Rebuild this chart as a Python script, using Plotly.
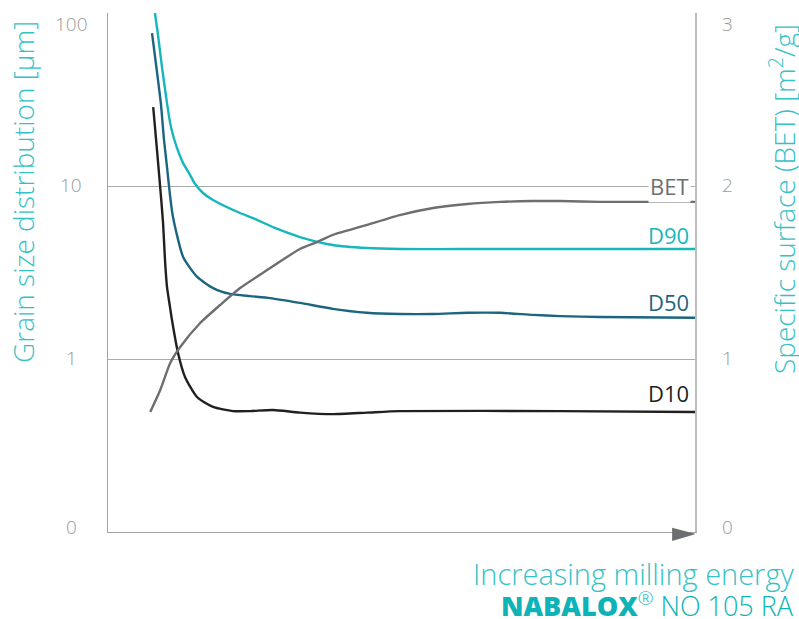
import math
import plotly.graph_objects as go

# ---- data (x: milling energy, arbitrary units 0-100) ----
d90_x = [8.0, 8.52, 9.2, 10.05, 10.56, 11.07, 11.75, 12.78, 13.97, 14.82, 16.18, 17.89,
         22.49, 24.70, 28.45, 32.71, 38.3, 44.1, 49.7, 60.0, 100.0]
d90_y = [100, 74.6, 48.7, 30.2, 23.4, 19.7, 16.6, 13.6, 11.6, 10.3, 9.11, 8.30,
         6.98, 6.53, 5.72, 5.07, 4.56, 4.38, 4.32, 4.32, 4.32]

d50_x = [7.5, 8.52, 9.03, 9.54, 10.05, 10.56, 11.07, 12.8, 15.2, 17.9, 20.8, 24.2, 27.6,
         32.7, 38.3, 44.1, 49.7, 55.4, 61.2, 66.8, 72.4, 77.0, 83.8, 100.0]
d50_y = [76.6, 41.0, 29.4, 18.5, 12.9, 8.87, 6.62, 3.89, 2.98, 2.57, 2.38, 2.31, 2.25,
         2.11, 1.95, 1.85, 1.82, 1.82, 1.85, 1.85, 1.80, 1.77, 1.75, 1.73]

d10_x = [7.7, 8.35, 8.86, 9.37, 9.71, 10.05, 10.56, 10.90, 11.93, 13.12, 15.16, 17.89,
         21.29, 24.2, 28.1, 32.7, 38.3, 44.1, 49.7, 77.0, 100.0]
d10_y = [28.6, 16.1, 10.1, 6.19, 3.73, 2.61, 2.00, 1.68, 1.083, 0.787, 0.603, 0.528,
         0.500, 0.500, 0.507, 0.490, 0.480, 0.490, 0.500, 0.500, 0.494]

bet_x = [7.2, 8.9, 10.6, 12.3, 15.7, 19.1, 22.5, 27.1, 32.7, 35.6, 38.3, 44.1, 49.7,
         55.4, 61.2, 66.8, 72.4, 77.0, 83.8, 100.0]
bet_y = [0.694, 0.821, 0.977, 1.069, 1.208, 1.312, 1.410, 1.514, 1.636, 1.676, 1.717,
         1.775, 1.832, 1.873, 1.896, 1.908, 1.913, 1.913, 1.908, 1.908]

left_tick_vals = [0.1, 1, 10, 100]
left_tick_text = ["0", "1", "10", "100"]
right_tick_vals = [0, 1, 2, 3]
right_tick_text = ["0", "1", "2", "3"]

series_labels = ["BET", "D90", "D50", "D10"]

# ---- styles ----
C_D90 = "#16B6BB"
C_D50 = "#1C6581"
C_D10 = "#231F20"
C_BET = "#6D6E71"
C_TITLE = "#35C2C6"
C_TICK = "#9A9A9A"
FONT = "Open Sans"

fig = go.Figure()
line_w = 2.4
sm = 0.6
fig.add_trace(go.Scatter(x=bet_x, y=bet_y, yaxis="y2", mode="lines",
                         line=dict(color=C_BET, width=line_w, shape="spline", smoothing=sm)))
fig.add_trace(go.Scatter(x=d10_x, y=d10_y, mode="lines",
                         line=dict(color=C_D10, width=line_w, shape="spline", smoothing=sm)))
fig.add_trace(go.Scatter(x=d50_x, y=d50_y, mode="lines",
                         line=dict(color=C_D50, width=line_w, shape="spline", smoothing=sm)))
fig.add_trace(go.Scatter(x=d90_x, y=d90_y, mode="lines",
                         line=dict(color=C_D90, width=line_w, shape="spline", smoothing=sm)))

fig.update_layout(
    width=799, height=619, autosize=False,
    margin=dict(l=108, r=104, t=13, b=87),
    plot_bgcolor="white", paper_bgcolor="white",
    showlegend=False,
    font=dict(family=FONT, color=C_TICK),
    xaxis=dict(range=[0, 100], showgrid=False, zeroline=False, showticklabels=False,
               ticks="", showline=True, linecolor="#A3A3A3", linewidth=1.2),
    yaxis=dict(type="log", range=[-1, 2], tickvals=[1, 10], showticklabels=False, ticks="",
               showgrid=True, gridcolor="#ABABAB", gridwidth=1.2, zeroline=False,
               showline=True, linecolor="#A3A3A3", linewidth=1.2),
    yaxis2=dict(range=[0, 3], overlaying="y", side="right", showgrid=False,
                showticklabels=False, ticks="", zeroline=False,
                showline=True, linecolor="#BDBDBD", linewidth=1.5),
)

ann = []
tick_font = dict(family=FONT, size=19, color=C_TICK, weight=300)
for v, t in zip(left_tick_vals, left_tick_text):
    ys = -11 if t == "100" else (5 if t == "0" else 1)
    ann.append(dict(xref="paper", yref="y", x=-0.063, y=math.log10(v), text=t, showarrow=False,
                    xanchor="center", yanchor="middle", yshift=ys, font=tick_font))
for v, t in zip(right_tick_vals, right_tick_text):
    ys = -11 if t == "3" else (5 if t == "0" else 1)
    ann.append(dict(xref="paper", yref="y2", x=1.056, y=v, text=t, showarrow=False,
                    xanchor="center", yanchor="middle", yshift=ys, font=tick_font))

# series labels at right
lab_y = [0.6667, 0.5723, 0.4432, 0.2678]
lab_c = [C_BET, C_D90, C_D50, C_D10]
for t, y, c in zip(series_labels, lab_y, lab_c):
    ann.append(dict(xref="paper", yref="paper", x=1, y=y, xshift=-4, text=t, showarrow=False,
                    xanchor="right", yanchor="middle", bgcolor="white" if t == "BET" else None,
                    borderpad=1, font=dict(family=FONT, size=22, color=c, weight=400)))

# axis titles
ann.append(dict(xref="paper", yref="paper", x=(23 - 108) / 587, y=(532 - 192) / 519,
                text="Grain size distribution [µm]", textangle=-90, showarrow=False,
                xanchor="center", yanchor="middle",
                font=dict(family=FONT, size=28, color=C_TITLE, weight=300)))
ann.append(dict(xref="paper", yref="paper", x=(782 - 108) / 587, y=(532 - 199) / 519,
                text="Specific surface (BET) [m<sup>2</sup>/g]", textangle=-90, showarrow=False,
                xanchor="center", yanchor="middle",
                font=dict(family=FONT, size=28, color=C_TITLE, weight=300)))

# bottom texts
ann.append(dict(xref="paper", yref="paper", x=(796 - 108) / 587, y=(532 - 573) / 519,
                text="Increasing milling energy", showarrow=False,
                xanchor="right", yanchor="middle",
                font=dict(family=FONT, size=29, color=C_TITLE, weight=300)))
ann.append(dict(xref="paper", yref="paper", x=(796 - 108) / 587, y=(532 - 604) / 519,
                text="<span style='font-weight:800'>NABALOX</span><sup>®</sup> NO 105 RA",
                showarrow=False, xanchor="right", yanchor="middle",
                font=dict(family=FONT, size=27, color="#0DB3B6", weight=300)))
fig.update_layout(annotations=ann)

# arrow head on x axis
fig.add_shape(type="path", xref="x", yref="paper",
              path="M 96.1 0.0083 L 100.2 -0.0039 L 96.1 -0.0173 Z",
              fillcolor="#6D6E71", line=dict(width=0))

fig.write_html("out.html", config={"displayModeBar": False},
               post_script="document.body.style.margin='0';document.body.style.overflow='hidden';")
